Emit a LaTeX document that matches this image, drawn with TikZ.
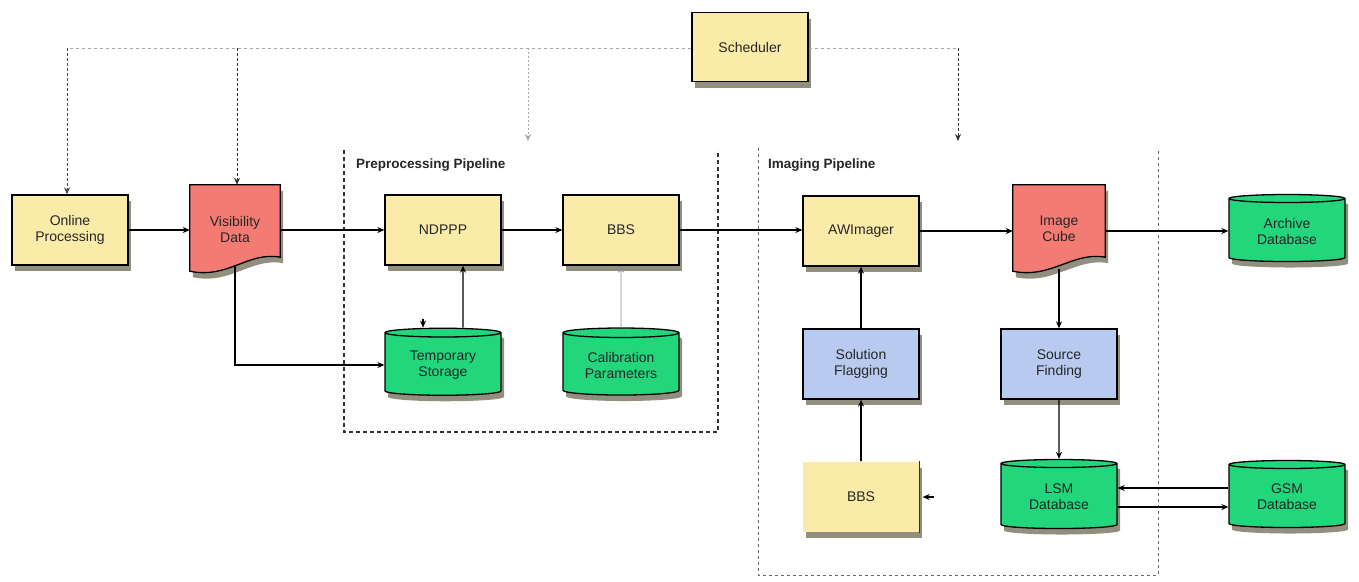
\documentclass[tikz,border=0pt]{standalone}
\usepackage{fontspec}
\setmainfont{Liberation Sans}
\usetikzlibrary{shapes.geometric,shadows,arrows.meta,calc}
\pgfdeclarelayer{background}
\pgfdeclarelayer{canvas}
\pgfsetlayers{canvas,background,main}
\definecolor{yel}{HTML}{FBEBA8}
\definecolor{redc}{HTML}{F47B73}
\definecolor{grn}{HTML}{22D67C}
\definecolor{blu}{HTML}{B9CAF1}
\definecolor{shc}{HTML}{6E6A55}
\tikzset{
  shad/.style={preaction={fill=shc, opacity=0.75, transform canvas={xshift=3pt,yshift=-6pt}}},
  nfont/.style={font=\fontsize{14}{16}\selectfont, text=black!85, align=center},
  procbox/.style={rectangle, draw=black, line width=1.3pt, fill=yel, minimum width=116pt, minimum height=70pt, shad, nfont},
  bluebox/.style={procbox, fill=blu},
  dbbox/.style={cylinder, shape border rotate=90, aspect=0.12, draw=black, line width=1.3pt, fill=grn, minimum width=116pt, minimum height=67pt, shad, nfont},
  docnode/.style={rectangle, minimum width=90pt, minimum height=88pt, nfont},
  docpath/.style={draw=black, line width=1.3pt, fill=redc, shad},
  conn/.style={draw=black, line width=1.1pt, -{Stealth[length=7pt,width=6pt]}},
  lightconn/.style={draw=black!45, line width=0.6pt, -{Stealth[length=7pt,width=6pt]}},
  schedline/.style={draw=black!35, line width=0.7pt, dashed},
  schedconn/.style={draw=black!80, line width=1pt, dash pattern=on 3pt off 2pt, -{Stealth[length=7pt,width=6pt]}},
  lightsched/.style={draw=black!35, line width=0.7pt, dash pattern=on 2pt off 2pt, -{Stealth[length=7pt,width=6pt]}},
  pipebox/.style={draw=black!80, line width=1.2pt, dash pattern=on 4pt off 3pt},
  pipebox2/.style={draw=black!60, line width=0.9pt, dash pattern=on 3pt off 3pt},
  pipelabel/.style={font=\bfseries\fontsize{13.5}{15}\selectfont, text=black!85, anchor=west, inner sep=0pt}
}
\newcommand{\docshape}[1]{%
  \begin{pgfonlayer}{background}
  \path[docpath] (#1.north west) -- (#1.north east) -- ($(#1.south east)+(0,-16)$)
    .. controls ($(#1.south east)+(-32,-22)$) and ($(#1.south west)+(38,6)$) .. ($(#1.south west)+(0,-2)$) -- cycle;
  \end{pgfonlayer}}
\begin{document}
\begin{tikzpicture}[x=1pt,y=-1pt]
\useasboundingbox (0,0) rectangle (1359,581);
\begin{pgfonlayer}{canvas}
\fill[white] (0,0) rectangle (1359,581);
\end{pgfonlayer}

% pipeline frames
\draw[pipebox] (344,150) -- (344,432) -- (718,432) -- (718,150);
\draw[pipebox2] (758,148) -- (758,575) -- (1158,575) -- (1158,148);
\node[pipelabel] (pplabel) at (356,165) {Preprocessing Pipeline};
\node[pipelabel] (iplabel) at (768,165) {Imaging Pipeline};

% nodes
\node[procbox, minimum height=69pt] (sched) at (750,47) {Scheduler};
\node[procbox] (online) at (70,230) {Online\\Processing};
\node[docnode] (vis) at (235,229) {Visibility\\Data};
\docshape{vis}
\node[procbox] (ndppp) at (443,230) {NDPPP};
\node[procbox] (bbs) at (621,230) {BBS};
\node[dbbox] (temp) at (443,365) {Temporary\\Storage};
\node[dbbox] (calib) at (621,365) {Calibration\\Parameters};
\node[procbox] (awim) at (861,231) {AWImager};
\node[docnode, minimum width=92pt] (cube) at (1059,229) {Image\\Cube};
\docshape{cube}
\node[dbbox] (archive) at (1287,231) {Archive\\Database};
\node[bluebox] (solflag) at (861,364) {Solution\\Flagging};
\node[bluebox] (srcfind) at (1059,364) {Source\\Finding};
\node[procbox, draw=none] (bbstwo) at (861,497) {BBS};
\draw[black!80, line width=1.3pt] (bbstwo.north east) -- (bbstwo.south east);
\node[dbbox, minimum height=69pt] (lsm) at (1059,497) {LSM\\Database};
\node[dbbox] (gsm) at (1287,497) {GSM\\Database};

% scheduler connections
\coordinate (sl) at (67,48);
\coordinate (svis) at (237,48);
\coordinate (spre) at (528,48);
\coordinate (sr) at (958,48);
\coordinate (spreend) at (528,141);
\coordinate (srend) at (958,141);
\draw[schedline] (sched.west |- sl) -- (sl);
\draw[schedline] (sched.east |- sr) -- (sr);
\draw[schedconn, draw=black!70, line width=0.8pt] (sl) -- (online.north -| sl);
\draw[schedconn] (svis) -- (vis.north -| svis);
\draw[lightsched] (spre) -- (spreend);
\draw[schedconn, line width=0.8pt] (sr) -- (srend);

% data flow
\draw[conn] (online.east) -- (online.east -| vis.west);
\draw[conn] (vis.east |- ndppp.west) -- (ndppp.west);
\draw[conn] (ndppp.east) -- (bbs.west);
\draw[conn] (bbs.east) -- (bbs.east -| awim.west);
\draw[conn] (awim.east) -- (awim.east -| cube.west);
\draw[conn] (cube.east |- archive.west) -- (archive.west);
\draw[conn] ($(vis.south)+(0,-8)$) |- (temp.west);
\draw[conn] ([xshift=20pt]temp.north) -- ([xshift=20pt]ndppp.south);
\draw[conn] ($([xshift=-20pt]temp.north)+(0,-9)$) -- ([xshift=-20pt]temp.north);
\draw[lightconn] (calib.north) -- (bbs.south);
\draw[conn] (solflag.north) -- (awim.south);
\draw[conn] (bbstwo.north) -- (solflag.south);
\draw[conn] ($(cube.south)+(0,-4)$) -- (srcfind.north);
\draw[conn] (srcfind.south) -- (lsm.north);
\draw[conn] ([yshift=9pt]gsm.west) -- ([yshift=9pt]gsm.west -| lsm.east);
\draw[conn] ([yshift=-10pt]lsm.east) -- ([yshift=-10pt]lsm.east -| gsm.west);
\draw[conn] ($(bbstwo.east)+(14,0)$) -- ($(bbstwo.east)+(3,0)$);
\end{tikzpicture}
\end{document}
